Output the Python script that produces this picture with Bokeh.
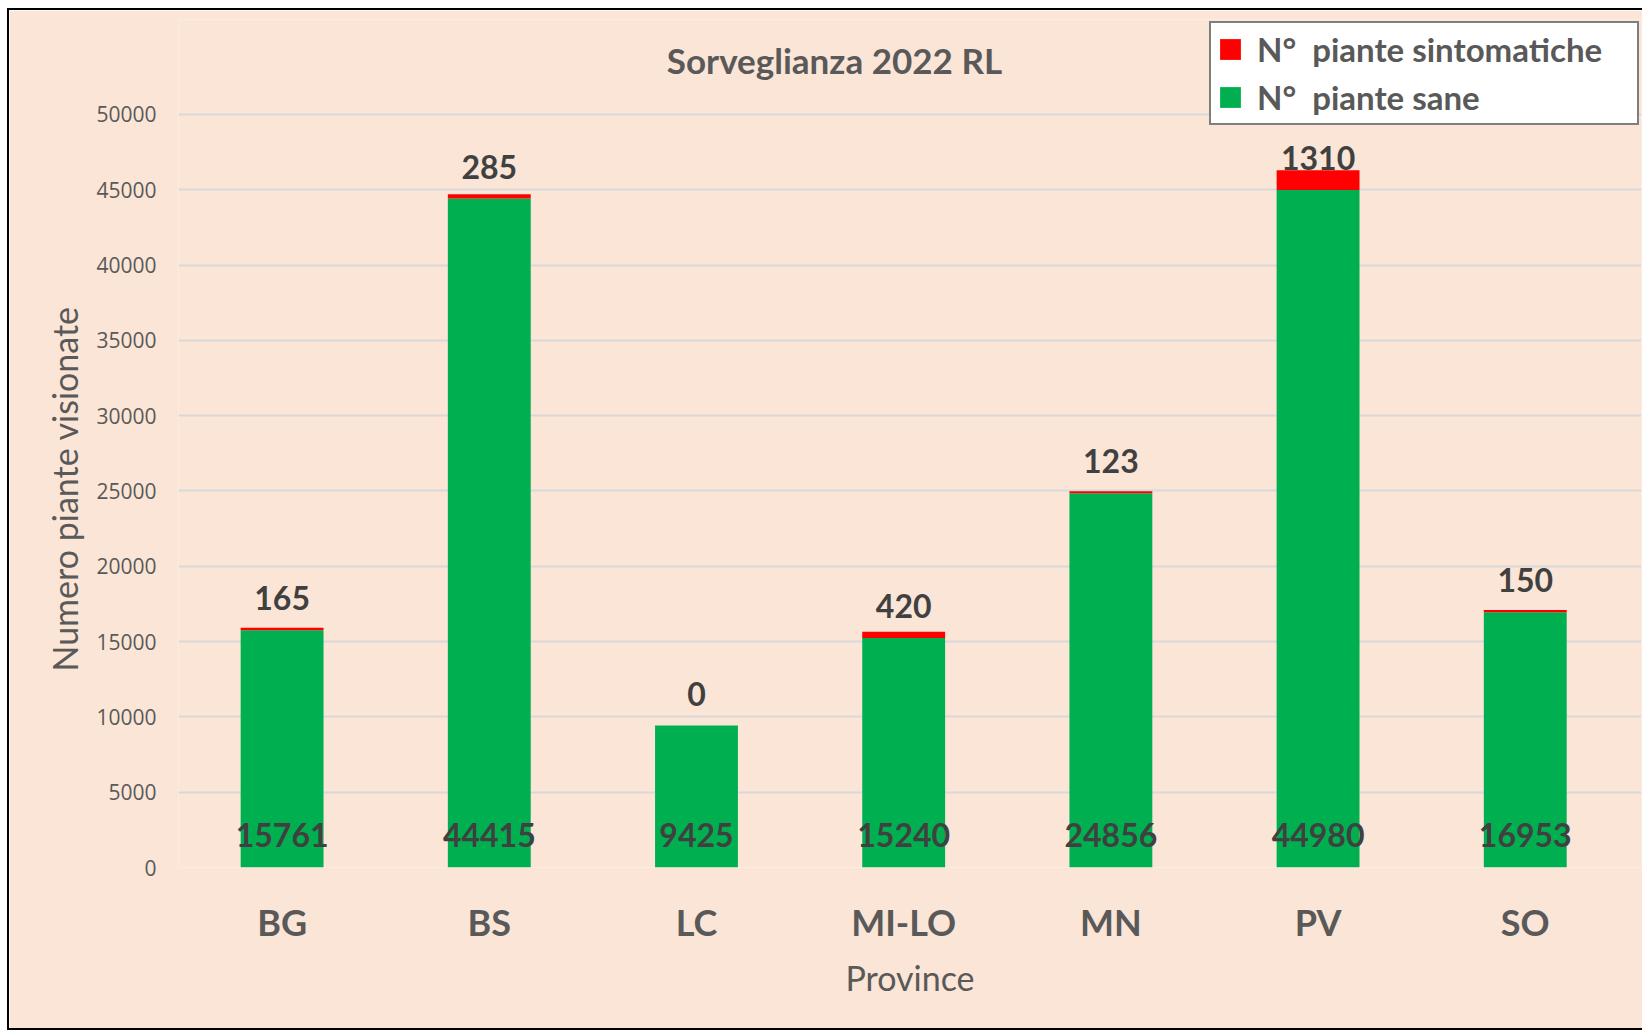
from bokeh.plotting import figure
from bokeh.models import (ColumnDataSource, Range1d, FixedTicker, Legend, LegendItem,
                          Label, Title, BasicTickFormatter)
from bokeh.core.properties import value
from bokeh.embed import file_html
from bokeh.resources import INLINE

provinces = ["BG", "BS", "LC", "MI-LO", "MN", "PV", "SO"]
sane = [15761, 44415, 9425, 15240, 24856, 44980, 16953]
sintomatiche = [165, 285, 0, 420, 123, 1310, 150]
y_ticks = [0, 5000, 10000, 15000, 20000, 25000, 30000, 35000, 40000, 45000, 50000]

title_text = "Sorveglianza 2022 RL"
y_title = "Numero piante visionate"
x_title = "Province"
legend_labels = ["N°  piante sintomatiche", "N°  piante sane"]

BG_COL = "#FBE5D6"
GREEN = "#00B050"
RED = "#FF0000"
GRAY = "#595959"
DARK = "#404040"

idx = list(range(len(provinces)))
src = ColumnDataSource(dict(
    x=idx,
    sane=sane,
    sint=sintomatiche,
    top=[a + b for a, b in zip(sane, sintomatiche)],
    zero=[0] * len(idx),
    sane_lbl=[str(v) for v in sane],
    sint_lbl=[str(v) for v in sintomatiche],
))

W, H = 1635, 1022
p = figure(width=W, height=H, output_backend="svg", toolbar_location=None,
           x_range=Range1d(-0.5, 6.561), y_range=Range1d(0, 56308),
           min_border_left=169, min_border_right=3, min_border_top=9,
           min_border_bottom=165)
p.margin = (8, 0, 0, 7)
p.styles = {"border-left": "2px solid black", "border-top": "2px solid black",
            "border-bottom": "2px solid black"}
p.background_fill_color = BG_COL
p.border_fill_color = BG_COL
p.outline_line_color = None

r_green = p.vbar(x="x", bottom="zero", top="sane", width=0.4, source=src,
                 fill_color=GREEN, line_color=None)
r_red = p.vbar(x="x", bottom="sane", top="top", width=0.4, source=src,
               fill_color=RED, line_color=None)

p.text(x="x", y="zero", text="sane_lbl", source=src, y_offset=-33,
       text_align="center", text_baseline="middle",
       text_font=value("Lato"), text_font_style="bold", text_font_size="32px",
       text_color=DARK)
p.text(x="x", y="sane", text="sint_lbl", source=src, y_offset=-32,
       text_align="center", text_baseline="middle",
       text_font=value("Lato"), text_font_style="bold", text_font_size="32px",
       text_color=DARK)

# axes
p.xgrid.grid_line_color = None
p.ygrid.grid_line_color = "#D9D9D9"
p.ygrid.grid_line_width = 2
p.yaxis.ticker = FixedTicker(ticks=y_ticks)
p.yaxis.formatter = BasicTickFormatter(use_scientific=False)
p.xaxis.ticker = FixedTicker(ticks=idx)
p.xaxis.major_label_overrides = {i: name for i, name in enumerate(provinces)}

for ax in (p.xaxis[0], p.yaxis[0]):
    ax.axis_line_color = None
    ax.major_tick_line_color = None
    ax.minor_tick_line_color = None
    ax.major_label_text_color = GRAY
    ax.axis_label_text_color = GRAY
    ax.axis_label_text_font = "Lato"
    ax.axis_label_text_font_style = "normal"
    ax.axis_label_text_font_size = "34px"

p.yaxis.major_label_text_font = "Open Sans"
p.yaxis.major_label_text_font_size = "21px"
p.yaxis.major_label_standoff = 16

p.xaxis.major_label_text_font = "Lato"
p.xaxis.major_label_text_font_style = "bold"
p.xaxis.major_label_text_font_size = "36px"
p.xaxis.major_label_standoff = 26
p.xaxis.axis_label = x_title
p.xaxis.axis_label_standoff = 10

# y-axis title as a side title, positioned so it is centred on the 0..50000 span
p.add_layout(Title(text=y_title, align="left", offset=196, standoff=18,
                   text_font="Lato", text_font_style="normal",
                   text_font_size="34px", text_color=GRAY), "left")

p.add_layout(Label(x=2.666, y=53586, text=title_text, text_align="center",
                   text_baseline="middle", text_font="Lato",
                   text_font_style="bold", text_font_size="35px",
                   text_color=GRAY))

legend = Legend(items=[LegendItem(label=legend_labels[0], renderers=[r_red]),
                       LegendItem(label=legend_labels[1], renderers=[r_green])],
                location="top_right", margin=2, padding=6, spacing=8,
                glyph_width=26, glyph_height=26, label_standoff=14,
                label_width=374, label_height=30,
                label_text_font="Lato", label_text_font_style="bold",
                label_text_font_size="33px", label_text_color=GRAY,
                background_fill_color="white", background_fill_alpha=1.0,
                border_line_color="black", border_line_width=2)
p.add_layout(legend, "center")

open("out.html", "w").write(file_html(p, INLINE))
